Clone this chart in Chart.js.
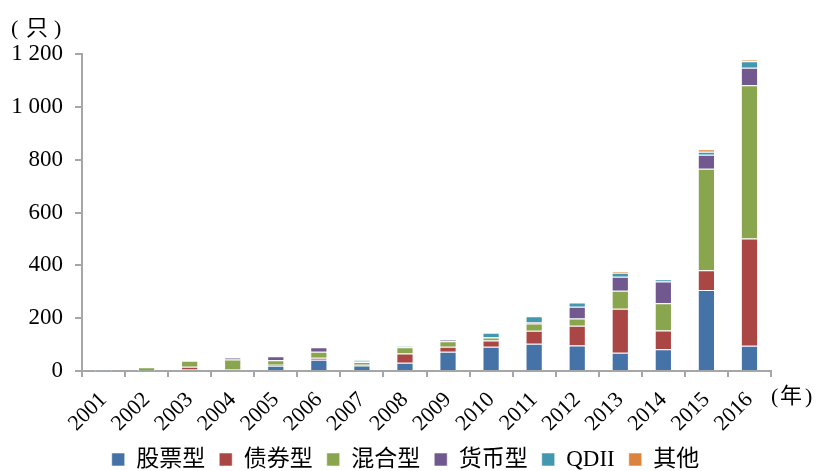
<!DOCTYPE html>
<html>
<head>
<meta charset="utf-8">
<script src="https://cdn.jsdelivr.net/npm/chart.js@4/dist/chart.umd.min.js"></script>
<style>
	html, body { margin: 0; padding: 0; background: #fff; overflow: hidden; width: 817px; height: 471px; }
	canvas { display: block; }
</style>
</head>
<body>
<canvas id="fundChart" width="817" height="481"></canvas>
<script>
// categorias y valores
const years = ["2001", "2002", "2003", "2004", "2005", "2006", "2007", "2008",
	"2009", "2010", "2011", "2012", "2013", "2014", "2015", "2016"];
const stock = [1, 1, 6, 6, 20, 43, 21, 31, 73, 92, 103, 97, 69, 82, 307, 96];
const bond = [0, 0, 10, 0, 4, 7, 3, 35, 19, 23, 49, 74, 167, 71, 74, 406];
const mixed = [2, 13, 23, 38, 17, 23, 10, 24, 21, 12, 28, 28, 68, 103, 385, 580];
const money = [0, 0, 0, 6, 15, 17, 2, 0, 4, 2, 5, 44, 53, 83, 53, 66];
const qdii = [0, 0, 0, 0, 0, 0, 5, 4, 0, 16, 22, 16, 15, 8, 11, 25];
const other = [0, 0, 0, 0, 0, 0, 0, 0, 0, 0, 0, 0, 6, 0, 9, 5];
const yTicks = [0, 200, 400, 600, 800, 1000, 1200];

const serif = "'Liberation Serif', 'Noto Sans CJK SC', serif";
const axisColor = "#a6a6a6";

const makeSet = (label, data, color) => ({
	label: label,
	data: data,
	backgroundColor: color,
	borderColor: "rgba(255, 255, 255, 0.55)",
	borderWidth: 1,
	barPercentage: 0.4,
	categoryPercentage: 1,
});

// textos de unidades en los ejes
const unitLabels = {
	id: "unitLabels",
	afterLayout(chart) {
		// centrar la leyenda en todo el ancho
		chart.legend.left += 20;
		chart.legend.right += 20;
	},
	afterDraw(chart) {
		const ctx = chart.ctx;
		ctx.save();
		ctx.fillStyle = "#000";
		ctx.font = "22px " + serif;
		ctx.textAlign = "left";
		ctx.textBaseline = "middle";
		ctx.fillText("(", 11, 29);
		ctx.fillText("只", 26, 29);
		ctx.fillText(")", 54, 29);
		ctx.fillText("(", 771, 397);
		ctx.fillText("年", 780, 397);
		ctx.fillText(")", 805, 397);
		ctx.restore();
	},
};

const canvas = document.getElementById("fundChart").getContext("2d");
const config = {
	type: "bar",
	data: {
		labels: years,
		datasets: [
			makeSet("股票型", stock, "#4572A7"),
			makeSet("债券型", bond, "#AA4643"),
			makeSet("混合型", mixed, "#89A54E"),
			makeSet("货币型", money, "#71588F"),
			makeSet("QDII", qdii, "#4198AF"),
			makeSet("其他", other, "#DB843D"),
		],
	},
	options: {
		responsive: false,
		animation: false,
		layout: {
			padding: {top: 54, right: 46, left: 0, bottom: 0},
		},
		scales: {
			x: {
				stacked: true,
				offset: true,
				afterFit: (scale) => { scale.height = 63; },
				grid: {
					offset: true,
					drawOnChartArea: false,
					drawTicks: true,
					tickLength: 6,
					color: axisColor,
					lineWidth: 2,
				},
				border: {display: true, color: axisColor, width: 2},
				ticks: {
					color: "#000",
					font: {family: serif, size: 22},
					maxRotation: 45,
					minRotation: 45,
					autoSkip: false,
					padding: 10,
				},
			},
			y: {
				stacked: true,
				min: 0,
				max: 1200,
				afterFit: (scale) => { scale.width = 82; },
				afterBuildTicks: (scale) => {
					scale.ticks = yTicks.map((v) => ({value: v}));
				},
				grid: {
					drawOnChartArea: false,
					drawTicks: true,
					tickLength: 7,
					color: axisColor,
					lineWidth: 2,
				},
				border: {display: true, color: axisColor, width: 2},
				ticks: {
					color: "#000",
					font: {family: serif, size: 23},
					padding: 12,
					callback: (value) => String(value).replace(/\B(?=(\d{3})+(?!\d))/g, " "),
				},
			},
		},
		plugins: {
			legend: {
				position: "bottom",
				labels: {
					boxWidth: 13,
					boxHeight: 13,
					padding: 14,
					color: "#000",
					font: {family: serif, size: 23, lineHeight: 1},
				},
			},
			tooltip: {enabled: false},
		},
	},
	plugins: [unitLabels],
};
new Chart(canvas, config);
</script>
</body>
</html>
